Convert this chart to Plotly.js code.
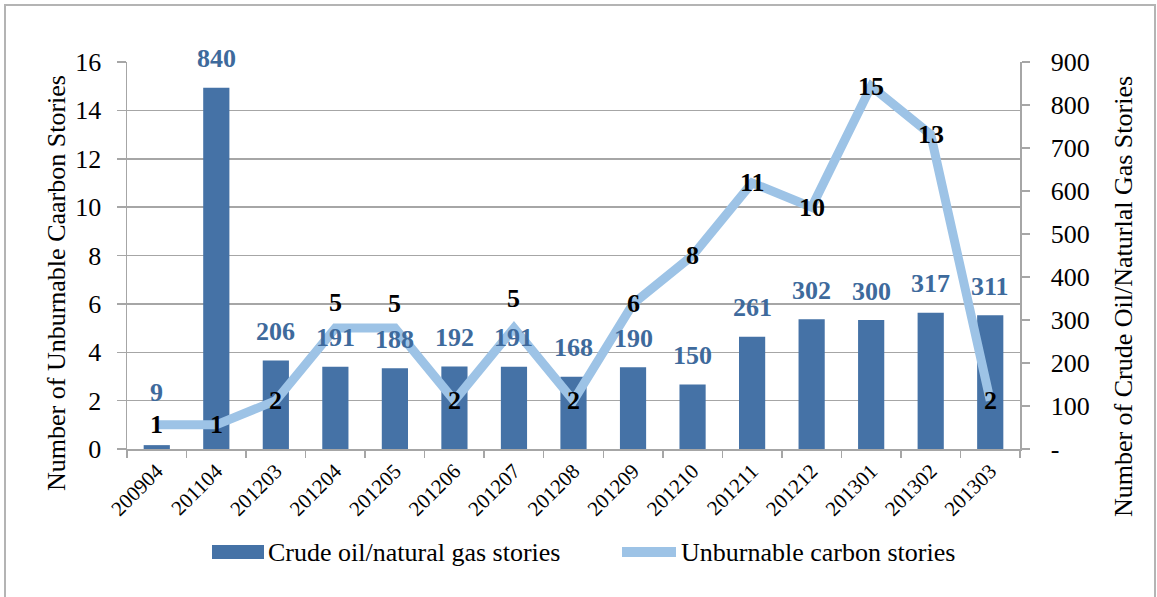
<!DOCTYPE html>
<html>
<head>
<meta charset="utf-8">
<script src="https://cdn.plot.ly/plotly-3.0.1.min.js"></script>
<style>
  html, body { margin: 0; padding: 0; background: #fff; }
  #wrap { position: relative; width: 1157px; height: 597px; overflow: hidden; }
  #chart { width: 1157px; height: 597px; }
  #frame { position: absolute; left: 4px; top: 4px; width: 1152px; height: 620px;
           border: 2px solid #B4B4B4; pointer-events: none; box-sizing: border-box; }
</style>
</head>
<body>
<div id="wrap"><div id="chart"></div><div id="frame"></div></div>
<script>
// ---- data ----
const months = ['200904','201104','201203','201204','201205','201206','201207','201208',
                '201209','201210','201211','201212','201301','201302','201303'];
const crudeOilGasStories = [9, 840, 206, 191, 188, 192, 191, 168, 190, 150, 261, 302, 300, 317, 311];
const unburnableCarbonStories = [1, 1, 2, 5, 5, 2, 5, 2, 6, 8, 11, 10, 15, 13, 2];
const rightTickVals = [0, 100, 200, 300, 400, 500, 600, 700, 800, 900];
const rightTickText = ['-', '100', '200', '300', '400', '500', '600', '700', '800', '900'];
const barSeriesName = 'Crude oil/natural gas stories';
const lineSeriesName = 'Unburnable carbon stories';
const leftTitle = 'Number of Unburnable Caarbon Stories';
const rightTitle = 'Number of Crude Oil/Naturlal Gas Stories';

// ---- label styling (pixel offsets, not data) ----
const barLabelShift = [53, 29, 29, 29, 29, 29, 29, 29, 29, 29, 29, 29, 29, 29, 29];
const lineLabelShift = [0, 0, 0, 26, 25, 0, 30, 0, 0, 0, 0, 0, 0, 0, 0];

const FONT = 'Liberation Serif, Times New Roman, serif';
const BAR_COLOR = '#4572A6';
const LINE_COLOR = '#9DC3E6';
const LABEL_BLUE = '#3E6A9C';
const GRID = '#A6A6A6';

const traces = [
  {
    type: 'bar', name: barSeriesName, x: months, y: crudeOilGasStories,
    xaxis: 'x', yaxis: 'y', marker: { color: BAR_COLOR }, showlegend: false,
    hoverinfo: 'x+y'
  },
  {
    type: 'scatter', mode: 'lines', name: lineSeriesName, x: months, y: unburnableCarbonStories,
    xaxis: 'x', yaxis: 'y2', line: { color: LINE_COLOR, width: 9 }, showlegend: false,
    hoverinfo: 'x+y'
  }
];

const annotations = [];
months.forEach((m, i) => {
  // category index i is used so numeric-looking month strings are not read as positions
  annotations.push({
    x: i, y: crudeOilGasStories[i], xref: 'x', yref: 'y',
    text: String(crudeOilGasStories[i]), showarrow: false,
    yanchor: 'middle', yshift: barLabelShift[i],
    font: { family: FONT, size: 26, color: LABEL_BLUE, weight: 700 }
  });
  annotations.push({
    x: i, y: unburnableCarbonStories[i], xref: 'x', yref: 'y2',
    text: String(unburnableCarbonStories[i]), showarrow: false,
    yanchor: 'middle', yshift: lineLabelShift[i],
    font: { family: FONT, size: 26, color: '#000', weight: 700 }
  });
});

// axis titles
annotations.push({
  xref: 'paper', yref: 'paper', x: -0.0784, y: 0.429, text: leftTitle,
  textangle: -90, showarrow: false, xanchor: 'center', yanchor: 'middle',
  font: { family: FONT, size: 26, color: '#000' }
});
annotations.push({
  xref: 'paper', yref: 'paper', x: 1.1153, y: 0.395, text: rightTitle,
  textangle: -90, showarrow: false, xanchor: 'center', yanchor: 'middle',
  font: { family: FONT, size: 26, color: '#000' }
});

// custom legend (plot area: x 127..1020, y 62..449)
const px = v => (v - 127) / 893;
const py = v => (449 - v) / 387;
annotations.push({
  xref: 'paper', yref: 'paper', x: px(266), y: py(552), text: barSeriesName,
  showarrow: false, xanchor: 'left', yanchor: 'middle',
  font: { family: FONT, size: 26, color: '#000' }
});
annotations.push({
  xref: 'paper', yref: 'paper', x: px(679), y: py(552), text: lineSeriesName,
  showarrow: false, xanchor: 'left', yanchor: 'middle',
  font: { family: FONT, size: 26, color: '#000' }
});
const shapes = [
  { type: 'rect', xref: 'paper', yref: 'paper', x0: px(212), x1: px(264), y0: py(545), y1: py(559),
    fillcolor: BAR_COLOR, line: { width: 0 } },
  { type: 'line', xref: 'paper', yref: 'paper', x0: px(622), x1: px(676), y0: py(552), y1: py(552),
    line: { color: LINE_COLOR, width: 10 } }
];

const layout = {
  width: 1157, height: 597,
  margin: { l: 127, r: 137, t: 62, b: 148, pad: 0 },
  paper_bgcolor: '#fff', plot_bgcolor: '#fff',
  font: { family: FONT, size: 26, color: '#000' },
  showlegend: false,
  bargap: 0.56,
  xaxis: {
    type: 'category', range: [-0.5, months.length - 0.5], autorange: false,
    tickangle: -45, tickfont: { family: FONT, size: 21, color: '#000' },
    showline: true, linecolor: GRID, linewidth: 1.5,
    ticks: 'outside', tickson: 'boundaries', ticklen: 7, tickcolor: GRID, tickwidth: 1.5,
    showgrid: false, zeroline: false, fixedrange: true
  },
  yaxis: {
    side: 'right', range: [0, 900], autorange: false, tickvals: rightTickVals, ticktext: rightTickText,
    tickfont: { family: FONT, size: 26, color: '#000' },
    showline: true, linecolor: GRID, linewidth: 1.5,
    ticks: 'outside', ticklen: 8, tickcolor: GRID, tickwidth: 1.5, ticklabelstandoff: 16,
    showgrid: false, zeroline: false, fixedrange: true
  },
  yaxis2: {
    overlaying: 'y', side: 'left', range: [0, 16], autorange: false, dtick: 2, tick0: 0,
    tickfont: { family: FONT, size: 26, color: '#000' },
    showline: true, linecolor: GRID, linewidth: 1.5,
    ticks: 'outside', ticklen: 9, tickcolor: GRID, tickwidth: 1.5, ticklabelstandoff: 10,
    showgrid: true, gridcolor: GRID, gridwidth: 1.5, zeroline: false, fixedrange: true
  },
  annotations: annotations,
  shapes: shapes
};

Plotly.newPlot('chart', traces, layout, { displayModeBar: false, staticPlot: true });
</script>
</body>
</html>
